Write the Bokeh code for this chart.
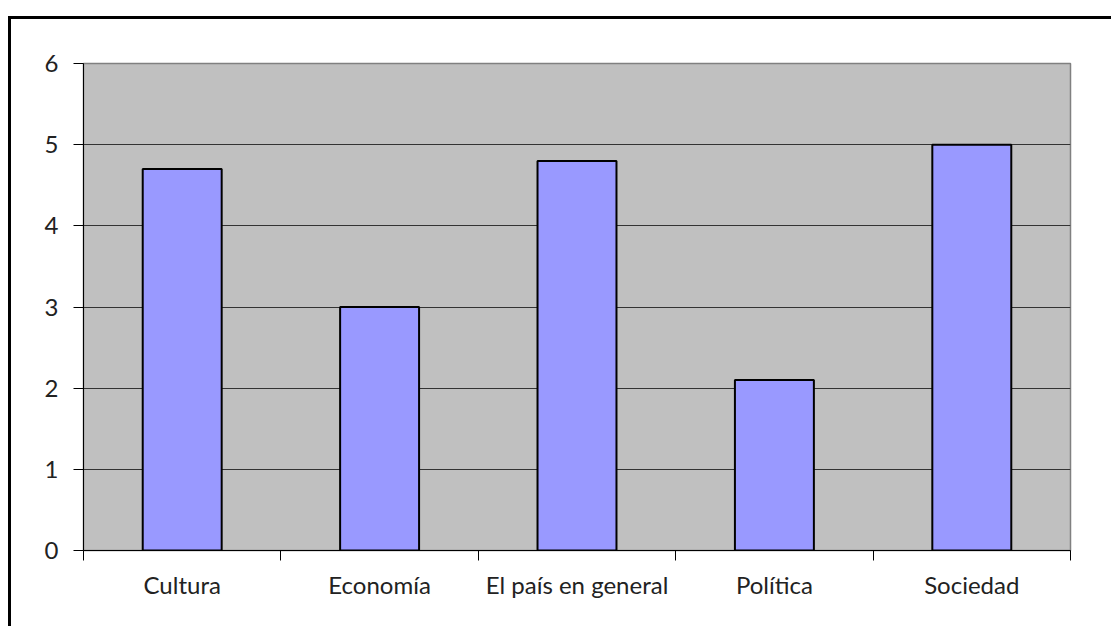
from bokeh.plotting import figure
from bokeh.models import Range1d, FixedTicker
from bokeh.embed import file_html
from bokeh.resources import INLINE

categories = ["Cultura", "Economía", "El país en general", "Política", "Sociedad"]
values = [4.7, 3.0, 4.8, 2.1, 5.0]
y_ticks = [0, 1, 2, 3, 4, 5, 6]

xpos = [i + 0.5 for i in range(len(categories))]

p = figure(width=1103, height=610, output_backend="svg", toolbar_location=None,
           x_range=Range1d(0, len(categories)), y_range=Range1d(0, 6),
           min_border_left=72, min_border_top=44, min_border_right=44, min_border_bottom=79)
p.styles = {"border-top": "3px solid black", "border-left": "3px solid black",
            "margin-top": "16px", "margin-left": "8px"}

p.border_fill_color = "white"
p.background_fill_color = "#C0C0C0"
p.outline_line_color = "#808080"
p.outline_line_width = 1.5

p.vbar(x=xpos, top=values, width=0.4, bottom=0, fill_color="#9999FF",
       line_color="black", line_width=2)

font = "Lato"
p.yaxis.ticker = FixedTicker(ticks=y_ticks)
p.yaxis.axis_line_color = "black"
p.yaxis.major_tick_in = 0
p.yaxis.major_tick_out = 10
p.yaxis.major_tick_line_color = "black"
p.yaxis.minor_tick_line_color = None
p.yaxis.major_label_text_font = font
p.yaxis.major_label_text_font_size = "24px"
p.yaxis.major_label_text_color = "#222222"
p.yaxis.major_label_standoff = 15

p.xaxis.ticker = FixedTicker(ticks=xpos, minor_ticks=list(range(len(categories) + 1)))
p.xaxis.major_label_overrides = {x: c for x, c in zip(xpos, categories)}
p.xaxis.axis_line_color = "black"
p.xaxis.major_tick_line_color = None
p.xaxis.major_tick_in = 0
p.xaxis.major_tick_out = 0
p.xaxis.minor_tick_line_color = "black"
p.xaxis.minor_tick_in = 0
p.xaxis.minor_tick_out = 10
p.xaxis.major_label_text_font = font
p.xaxis.major_label_text_font_size = "24px"
p.xaxis.major_label_text_color = "#222222"
p.xaxis.major_label_standoff = 9

p.xgrid.grid_line_color = None
p.ygrid.ticker = FixedTicker(ticks=y_ticks[1:-1])
p.ygrid.grid_line_color = "#333333"
p.ygrid.grid_line_width = 1.2

open("out.html", "w").write(file_html(p, INLINE))
